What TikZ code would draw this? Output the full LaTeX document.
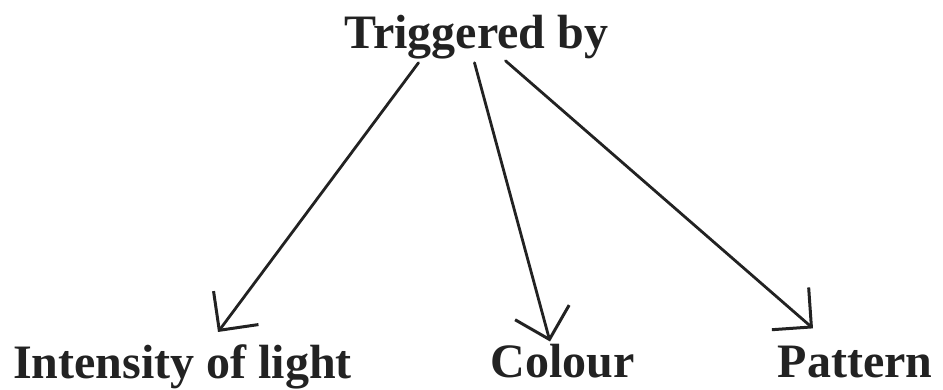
\documentclass[tikz,border=0pt]{standalone}
\usepackage{fontspec}
\setmainfont{Liberation Serif}
\usepackage{xcolor}
\usepackage{tikz}
\usetikzlibrary{arrows.meta,positioning,calc}

\definecolor{ink}{HTML}{222222}

\begin{document}
\begin{tikzpicture}[
  x=1pt, y=1pt,
  word/.style={font=\fontsize{48}{56}\selectfont\bfseries, text=ink,
               anchor=base, inner sep=3pt},
  arrow/.style={-{Straight Barb[length=28pt, width=56pt, line width=3pt]},
                line width=2.8pt, draw=ink, line cap=round},
]
\useasboundingbox (0,0) rectangle (943,390);

\node[word] (trig) at (476.5,341) {Triggered by};
\node[word] (light) at (182.5,11) {Intensity of light};
\node[word] (colour) at (562.5,12) {Colour};
\node[word] (pattern) at (855,12) {Pattern};

\draw[arrow] ([xshift=-58pt]trig.south) -- ([xshift=35.5pt, yshift=10pt]light.north);
\draw[arrow] ([xshift=-2pt]trig.south) -- ([xshift=-12.5pt]colour.north);
\draw[arrow] ([xshift=29pt, yshift=2pt]trig.south) -- ([xshift=-42pt, yshift=15pt]pattern.north);
\end{tikzpicture}
\end{document}
